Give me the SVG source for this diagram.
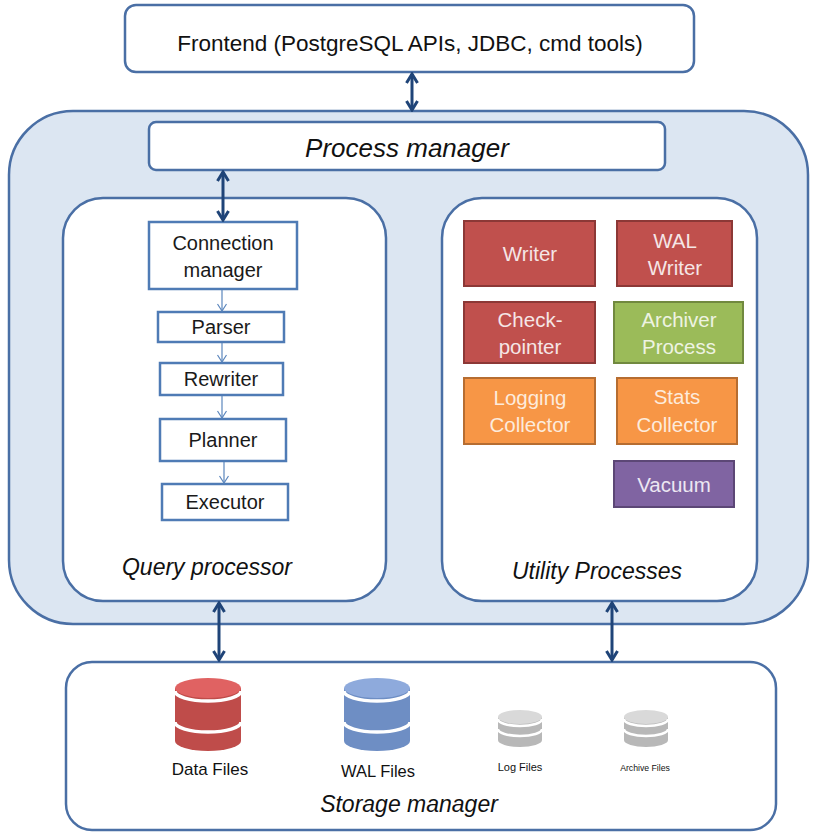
<svg xmlns="http://www.w3.org/2000/svg" width="822" height="836" viewBox="0 0 822 836">
<defs>
<style>
text{font-family:"Liberation Sans",Arial,sans-serif;text-anchor:middle}
.cont{fill:#ffffff;stroke:#4a6fa5;stroke-width:2.5}
.qbox{fill:#ffffff;stroke:#4f7bb5;stroke-width:2.5}
.qt{font-size:20px;fill:#1a1a1a}
.title{font-size:23px;font-style:italic;fill:#111}
.red{fill:#c0504d;stroke:#8c3836;stroke-width:2}
.green{fill:#9bbb59;stroke:#71893f;stroke-width:2}
.orange{fill:#f79646;stroke:#b66d31;stroke-width:2}
.purple{fill:#8064a2;stroke:#5c4776;stroke-width:2}
.ut{font-size:20.5px}
.tr{fill:#f5e6e6}.tg{fill:#eef3e2}.to{fill:#fdebdc}.tp{fill:#ece7f2}
.big{fill:none;stroke:#1f4478;stroke-width:3;marker-start:url(#bh);marker-end:url(#bh)}
.small{fill:none;stroke:#5b86bd;stroke-width:1.2;marker-end:url(#sh)}
.gap{fill:none;stroke:#ffffff;stroke-width:3.5}
.gaps{fill:none;stroke:#ffffff;stroke-width:2.5}
</style>
<marker id="bh" viewBox="-12 -7 14 14" refX="0" refY="0" markerWidth="14" markerHeight="14" markerUnits="userSpaceOnUse" orient="auto-start-reverse">
<path d="M-9,-5.5 L0,0 L-9,5.5" fill="none" stroke="#1f4478" stroke-width="3"/>
</marker>
<marker id="sh" viewBox="-9 -5 10 10" refX="0" refY="0" markerWidth="10" markerHeight="10" markerUnits="userSpaceOnUse" orient="auto">
<path d="M-7,-4.5 L0,0 L-7,4.5" fill="none" stroke="#5b86bd" stroke-width="1.2"/>
</marker>
</defs>
<rect width="822" height="836" fill="#ffffff"/>

<g id="backend">
<rect x="9" y="111" width="799" height="513" rx="64" fill="#dce6f2" stroke="#4a6fa5" stroke-width="2.5"/>
</g>

<g id="frontend">
<rect class="cont" x="125" y="5" width="569" height="67" rx="11"/>
<text x="410" y="51" style="font-size:22.5px;fill:#111">Frontend (PostgreSQL APIs, JDBC, cmd tools)</text>
</g>

<g id="process-manager">
<rect class="cont" x="149" y="122" width="516" height="48" rx="7"/>
<text x="407" y="157" style="font-size:26px;font-style:italic;fill:#111">Process manager</text>
</g>

<g id="query-processor">
<rect class="cont" x="63" y="198" width="323" height="403" rx="40"/>
<text class="title" x="207" y="575">Query processor</text>
</g>

<g id="utility-processes">
<rect class="cont" x="442" y="198" width="315" height="403" rx="40"/>
<text class="title" x="597" y="579">Utility Processes</text>
</g>

<g id="connection-manager">
<rect class="qbox" x="149" y="222" width="148" height="67"/>
<text class="qt" x="223" y="250">Connection</text>
<text class="qt" x="223" y="277">manager</text>
</g>
<g id="parser">
<rect class="qbox" x="158" y="312" width="126" height="30"/>
<text class="qt" x="221" y="334">Parser</text>
</g>
<g id="rewriter">
<rect class="qbox" x="160" y="363" width="123" height="32"/>
<text class="qt" x="221" y="386">Rewriter</text>
</g>
<g id="planner">
<rect class="qbox" x="160" y="419" width="126" height="42"/>
<text class="qt" x="223" y="447">Planner</text>
</g>
<g id="executor">
<rect class="qbox" x="162" y="484" width="126" height="36"/>
<text class="qt" x="225" y="509">Executor</text>
</g>

<g id="writer">
<rect class="red" x="464" y="221" width="131" height="65"/>
<text class="ut tr" x="530" y="261">Writer</text>
</g>
<g id="wal-writer">
<rect class="red" x="617" y="221" width="115" height="65"/>
<text class="ut tr" x="675" y="248">WAL</text>
<text class="ut tr" x="675" y="275">Writer</text>
</g>
<g id="checkpointer">
<rect class="red" x="464" y="302" width="131" height="61"/>
<text class="ut tr" x="530" y="327">Check-</text>
<text class="ut tr" x="530" y="354">pointer</text>
</g>
<g id="archiver">
<rect class="green" x="614" y="302" width="129" height="61"/>
<text class="ut tg" x="679" y="327">Archiver</text>
<text class="ut tg" x="679" y="354">Process</text>
</g>
<g id="logging-collector">
<rect class="orange" x="464" y="378" width="131" height="66"/>
<text class="ut to" x="530" y="405">Logging</text>
<text class="ut to" x="530" y="432">Collector</text>
</g>
<g id="stats-collector">
<rect class="orange" x="617" y="378" width="120" height="66"/>
<text class="ut to" x="677" y="404">Stats</text>
<text class="ut to" x="677" y="432">Collector</text>
</g>
<g id="vacuum">
<rect class="purple" x="614" y="461" width="120" height="46"/>
<text class="ut tp" x="674" y="492">Vacuum</text>
</g>

<g id="storage-manager">
<rect class="cont" x="66" y="662" width="710" height="168" rx="26"/>
<text class="title" x="409" y="812">Storage manager</text>
</g>

<g id="data-files">
<path d="M175,688 L175,741 A33,10 0 0 0 241,741 L241,688 Z" fill="#bf4c4a"/>
<ellipse cx="208" cy="688" rx="33" ry="10" fill="#e06262"/>
<path class="gap" d="M175,691 A33,10 0 0 0 241,691"/>
<path class="gap" d="M175,722 A33,10 0 0 0 241,722"/>
<text x="210" y="775" style="font-size:17px;fill:#111">Data Files</text>
</g>
<g id="wal-files">
<path d="M344,688 L344,741 A33,10 0 0 0 410,741 L410,688 Z" fill="#6e8ec4"/>
<ellipse cx="377" cy="688" rx="33" ry="10" fill="#8eaadc"/>
<path class="gap" d="M344,691 A33,10 0 0 0 410,691"/>
<path class="gap" d="M344,722 A33,10 0 0 0 410,722"/>
<text x="378" y="777" style="font-size:16.5px;fill:#111">WAL Files</text>
</g>
<g id="log-files">
<path d="M498,717 L498,740 A22,7 0 0 0 542,740 L542,717 Z" fill="#b8b8b8"/>
<ellipse cx="520" cy="717" rx="22" ry="7" fill="#d9d9d9"/>
<path class="gaps" d="M498,719 A22,7 0 0 0 542,719"/>
<path class="gaps" d="M498,729 A22,7 0 0 0 542,729"/>
<text x="520" y="771" style="font-size:11px;fill:#111">Log Files</text>
</g>
<g id="archive-files">
<path d="M624,717 L624,740 A22,7 0 0 0 668,740 L668,717 Z" fill="#b8b8b8"/>
<ellipse cx="646" cy="717" rx="22" ry="7" fill="#d9d9d9"/>
<path class="gaps" d="M624,719 A22,7 0 0 0 668,719"/>
<path class="gaps" d="M624,729 A22,7 0 0 0 668,729"/>
<text x="645" y="771" style="font-size:8.7px;fill:#111">Archive Files</text>
</g>

<g id="connectors">
<line class="big" x1="412" y1="74" x2="412" y2="110"/>
<line class="big" x1="223" y1="172" x2="223" y2="220"/>
<line class="big" x1="219" y1="603" x2="219" y2="660"/>
<line class="big" x1="612" y1="603" x2="612" y2="660"/>
<line class="small" x1="222" y1="290" x2="222" y2="311"/>
<line class="small" x1="222" y1="343" x2="222" y2="362"/>
<line class="small" x1="222" y1="396" x2="222" y2="418"/>
<line class="small" x1="224" y1="462" x2="224" y2="483"/>
</g>
</svg>
